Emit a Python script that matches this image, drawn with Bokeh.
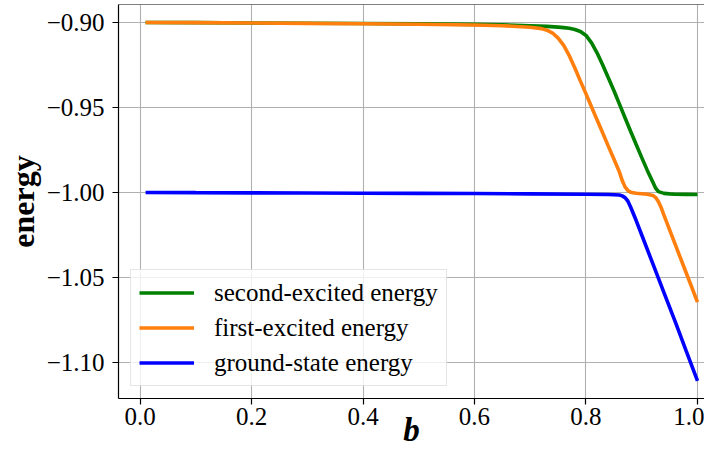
from bokeh.plotting import figure
from bokeh.models import (Range1d, FixedTicker, CustomJSTickFormatter, Legend,
                          LegendItem, Span)
from bokeh.embed import file_html
from bokeh.resources import INLINE

# ---- data ----
b_second = [0.01, 0.1, 0.2, 0.3, 0.4, 0.5, 0.6, 0.65, 0.7, 0.73, 0.75, 0.76, 0.77,
            0.78, 0.79, 0.80, 0.81, 0.82, 0.83, 0.84, 0.85, 0.86, 0.87, 0.88, 0.89,
            0.90, 0.91, 0.92, 0.925, 0.93, 0.94, 0.95, 0.96, 0.98, 1.0]
e_second = [-0.9000, -0.9001, -0.9003, -0.9004, -0.9006, -0.9008, -0.9011, -0.9014,
            -0.9019, -0.9023, -0.9027, -0.9030, -0.9034, -0.9041, -0.9053, -0.9076,
            -0.9120, -0.9180, -0.9250, -0.9325, -0.9400, -0.9480, -0.9560, -0.9640,
            -0.9718, -0.9795, -0.9870, -0.9940, -0.9975, -0.9995, -1.0005, -1.0008,
            -1.0010, -1.0011, -1.0012]

b_first = [0.01, 0.1, 0.2, 0.3, 0.4, 0.5, 0.6, 0.65, 0.7, 0.72, 0.73, 0.74, 0.75,
           0.76, 0.77, 0.78, 0.79, 0.80, 0.81, 0.82, 0.83, 0.84, 0.85, 0.86, 0.865,
           0.87, 0.875, 0.88, 0.89, 0.90, 0.91, 0.92, 0.925, 0.93, 0.935, 0.94,
           0.96, 0.98, 1.0]
e_first = [-0.9000, -0.9001, -0.9003, -0.9005, -0.9007, -0.9010, -0.9015, -0.9019,
           -0.9028, -0.9036, -0.9045, -0.9062, -0.9092, -0.9135, -0.9195, -0.9268,
           -0.9345, -0.9420, -0.9497, -0.9574, -0.9650, -0.9727, -0.9803, -0.9880,
           -0.9930, -0.9967, -0.9988, -0.9998, -1.0004, -1.0007, -1.0010, -1.0017,
           -1.0030, -1.0055, -1.0090, -1.0135, -1.0305, -1.0475, -1.0645]

b_ground = [0.01, 0.1, 0.2, 0.3, 0.4, 0.5, 0.6, 0.7, 0.8, 0.84, 0.86, 0.865, 0.87,
            0.875, 0.88, 0.885, 0.89, 0.90, 0.92, 0.94, 0.96, 0.98, 1.0]
e_ground = [-1.0000, -1.0001, -1.0002, -1.0003, -1.0004, -1.0005, -1.0006, -1.0008,
            -1.0010, -1.0012, -1.0015, -1.0020, -1.0030, -1.0050, -1.0085, -1.0125,
            -1.0165, -1.0250, -1.0420, -1.0590, -1.0760, -1.0935, -1.1108]

labels = ["second-excited energy", "first-excited energy", "ground-state energy"]
colors = ["#008000", "#ff7f0e", "#0000ff"]
x_ticks = [0.0, 0.2, 0.4, 0.6, 0.8, 1.0]
y_ticks = [-1.10, -1.05, -1.00, -0.95, -0.90]

FONT = "Liberation Serif"
Y_TOP = -0.88941

p = figure(width=704, height=456, output_backend="svg", toolbar_location=None,
           x_range=Range1d(-0.03857, 1.01256), y_range=Range1d(-1.12118, Y_TOP),
           min_border_left=118, min_border_right=0, min_border_top=4,
           min_border_bottom=58)
p.outline_line_color = None
p.background_fill_color = "white"
p.border_fill_color = "white"

renderers = []
for xs, ys, c in [(b_second, e_second, colors[0]), (b_first, e_first, colors[1]),
                  (b_ground, e_ground, colors[2])]:
    r = p.line(xs, ys, line_color=c, line_width=3.6)
    renderers.append(r)

# axes
p.xaxis.ticker = FixedTicker(ticks=x_ticks)
p.yaxis.ticker = FixedTicker(ticks=y_ticks)
p.xaxis.formatter = CustomJSTickFormatter(code="""
    return (tick < -1e-9 ? '\\u2212' : '') + Math.abs(tick).toFixed(1);
""")
p.yaxis.formatter = CustomJSTickFormatter(code="""
    return (tick < -1e-9 ? '\\u2212' : '') + Math.abs(tick).toFixed(2);
""")
for ax in (p.xaxis[0], p.yaxis[0]):
    ax.axis_line_color = "black"
    ax.axis_line_width = 1.2
    ax.major_tick_line_color = "black"
    ax.major_tick_line_width = 1.2
    ax.major_tick_out = 6
    ax.major_tick_in = 0
    ax.minor_tick_line_color = None
    ax.major_label_text_font = FONT
    ax.major_label_text_font_size = "25px"
    ax.major_label_text_color = "black"
    ax.axis_label_text_font = FONT
    ax.axis_label_text_color = "black"
p.xaxis.major_label_standoff = 3
p.yaxis.major_label_standoff = 8

p.yaxis.axis_label = "energy"
p.yaxis.axis_label_text_font_size = "32px"
p.yaxis.axis_label_text_font_style = "bold"
p.yaxis.axis_label_standoff = 3

p.xaxis.axis_label = "b"
p.xaxis.axis_label_text_font_size = "33px"
p.xaxis.axis_label_text_font_style = "bold italic"
p.xaxis.axis_label_standoff = -16

p.xgrid.grid_line_color = "#b0b0b0"
p.ygrid.grid_line_color = "#b0b0b0"
p.xgrid.grid_line_width = 1.1
p.ygrid.grid_line_width = 1.1

# top spine
p.add_layout(Span(location=Y_TOP, dimension="width", line_color="black",
                  line_width=1.2))

legend = Legend(items=[LegendItem(label=labels[i], renderers=[renderers[i]])
                       for i in range(3)],
                location=(12, 12))
legend.label_text_font = FONT
legend.label_text_font_size = "25px"
legend.label_text_color = "black"
legend.glyph_width = 55
legend.glyph_height = 29
legend.label_height = 29
legend.label_standoff = 20
legend.padding = 8
legend.spacing = 6
legend.margin = 0
legend.border_line_color = "#cccccc"
legend.border_line_width = 1
legend.background_fill_color = "white"
legend.background_fill_alpha = 0.8
p.add_layout(legend, "center")

open("out.html", "w").write(file_html(p, INLINE))
